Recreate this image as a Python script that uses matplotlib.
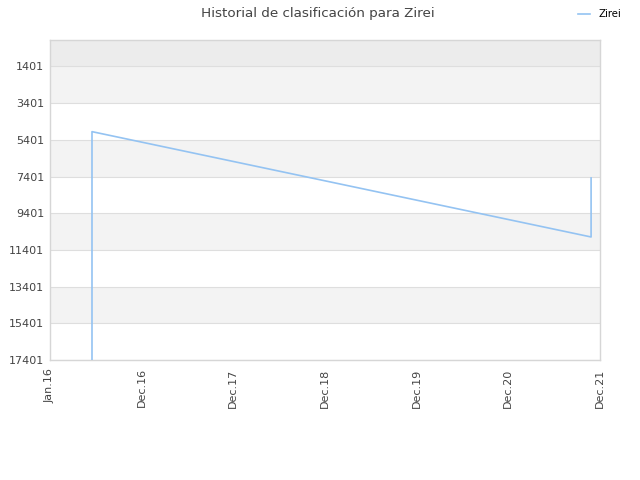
import matplotlib
matplotlib.use("Agg")
import matplotlib.pyplot as plt
import matplotlib.dates as mdates
import numpy as np
import pandas as pd

# datos del historial
fechas = pd.to_datetime(["2016-06-14", "2016-06-14", "2021-10-27", "2021-10-27"])
posiciones = [17401, 4955, 10696, 7479]

tick_labels = ["Jan.16", "Dec.16", "Dec.17", "Dec.18", "Dec.19", "Dec.20", "Dec.21"]
y_ticks = [1401, 3401, 5401, 7401, 9401, 11401, 13401, 15401, 17401]

x_ini = mdates.date2num(pd.Timestamp("2016-01-01"))
x_fin = mdates.date2num(pd.Timestamp("2021-12-01"))

fig = plt.figure(figsize=(6.4, 4.8), dpi=100)
ax = fig.add_axes([50 / 640, 1 - 360 / 480, 550 / 640, 320 / 480])

y_top = -40
y_bot = 17401
ax.set_xlim(x_ini, x_fin)
ax.set_ylim(y_bot, y_top)

# bandas alternas de fondo
ax.axhspan(y_top, 1401, color="#ececec", zorder=0, lw=0)
for i in range(len(y_ticks) - 1):
    if i % 2 == 0:
        ax.axhspan(y_ticks[i], y_ticks[i + 1], color="#f3f3f3", zorder=0, lw=0)

for yt in y_ticks:
    ax.axhline(yt, color="#dedede", lw=0.8, zorder=1)

ax.plot(mdates.date2num(fechas), posiciones, color="#94c3f2", lw=1.2, label="Zirei", zorder=3)

ax.set_yticks(y_ticks)
ax.set_yticklabels([str(v) for v in y_ticks])
ax.set_xticks(np.linspace(x_ini, x_fin, len(tick_labels)))
ax.set_xticklabels(tick_labels, rotation=90)
ax.tick_params(axis="both", labelsize=8, colors="#444444", length=0, pad=4)
ax.tick_params(axis="x", pad=6)

for s in ax.spines.values():
    s.set_color("#d6d6d6")
    s.set_linewidth(1)

fig.text(318 / 640, 1 - 13 / 480, "Historial de clasificación para Zirei",
         ha="center", va="center", fontsize=9.7, color="#444444")
fig.legend(loc="upper right", bbox_to_anchor=(1 - 10 / 640, 1.0), frameon=False, fontsize=7.3,
           handlelength=1.2, handletextpad=0.8)

fig.savefig("out.png", dpi=100)
